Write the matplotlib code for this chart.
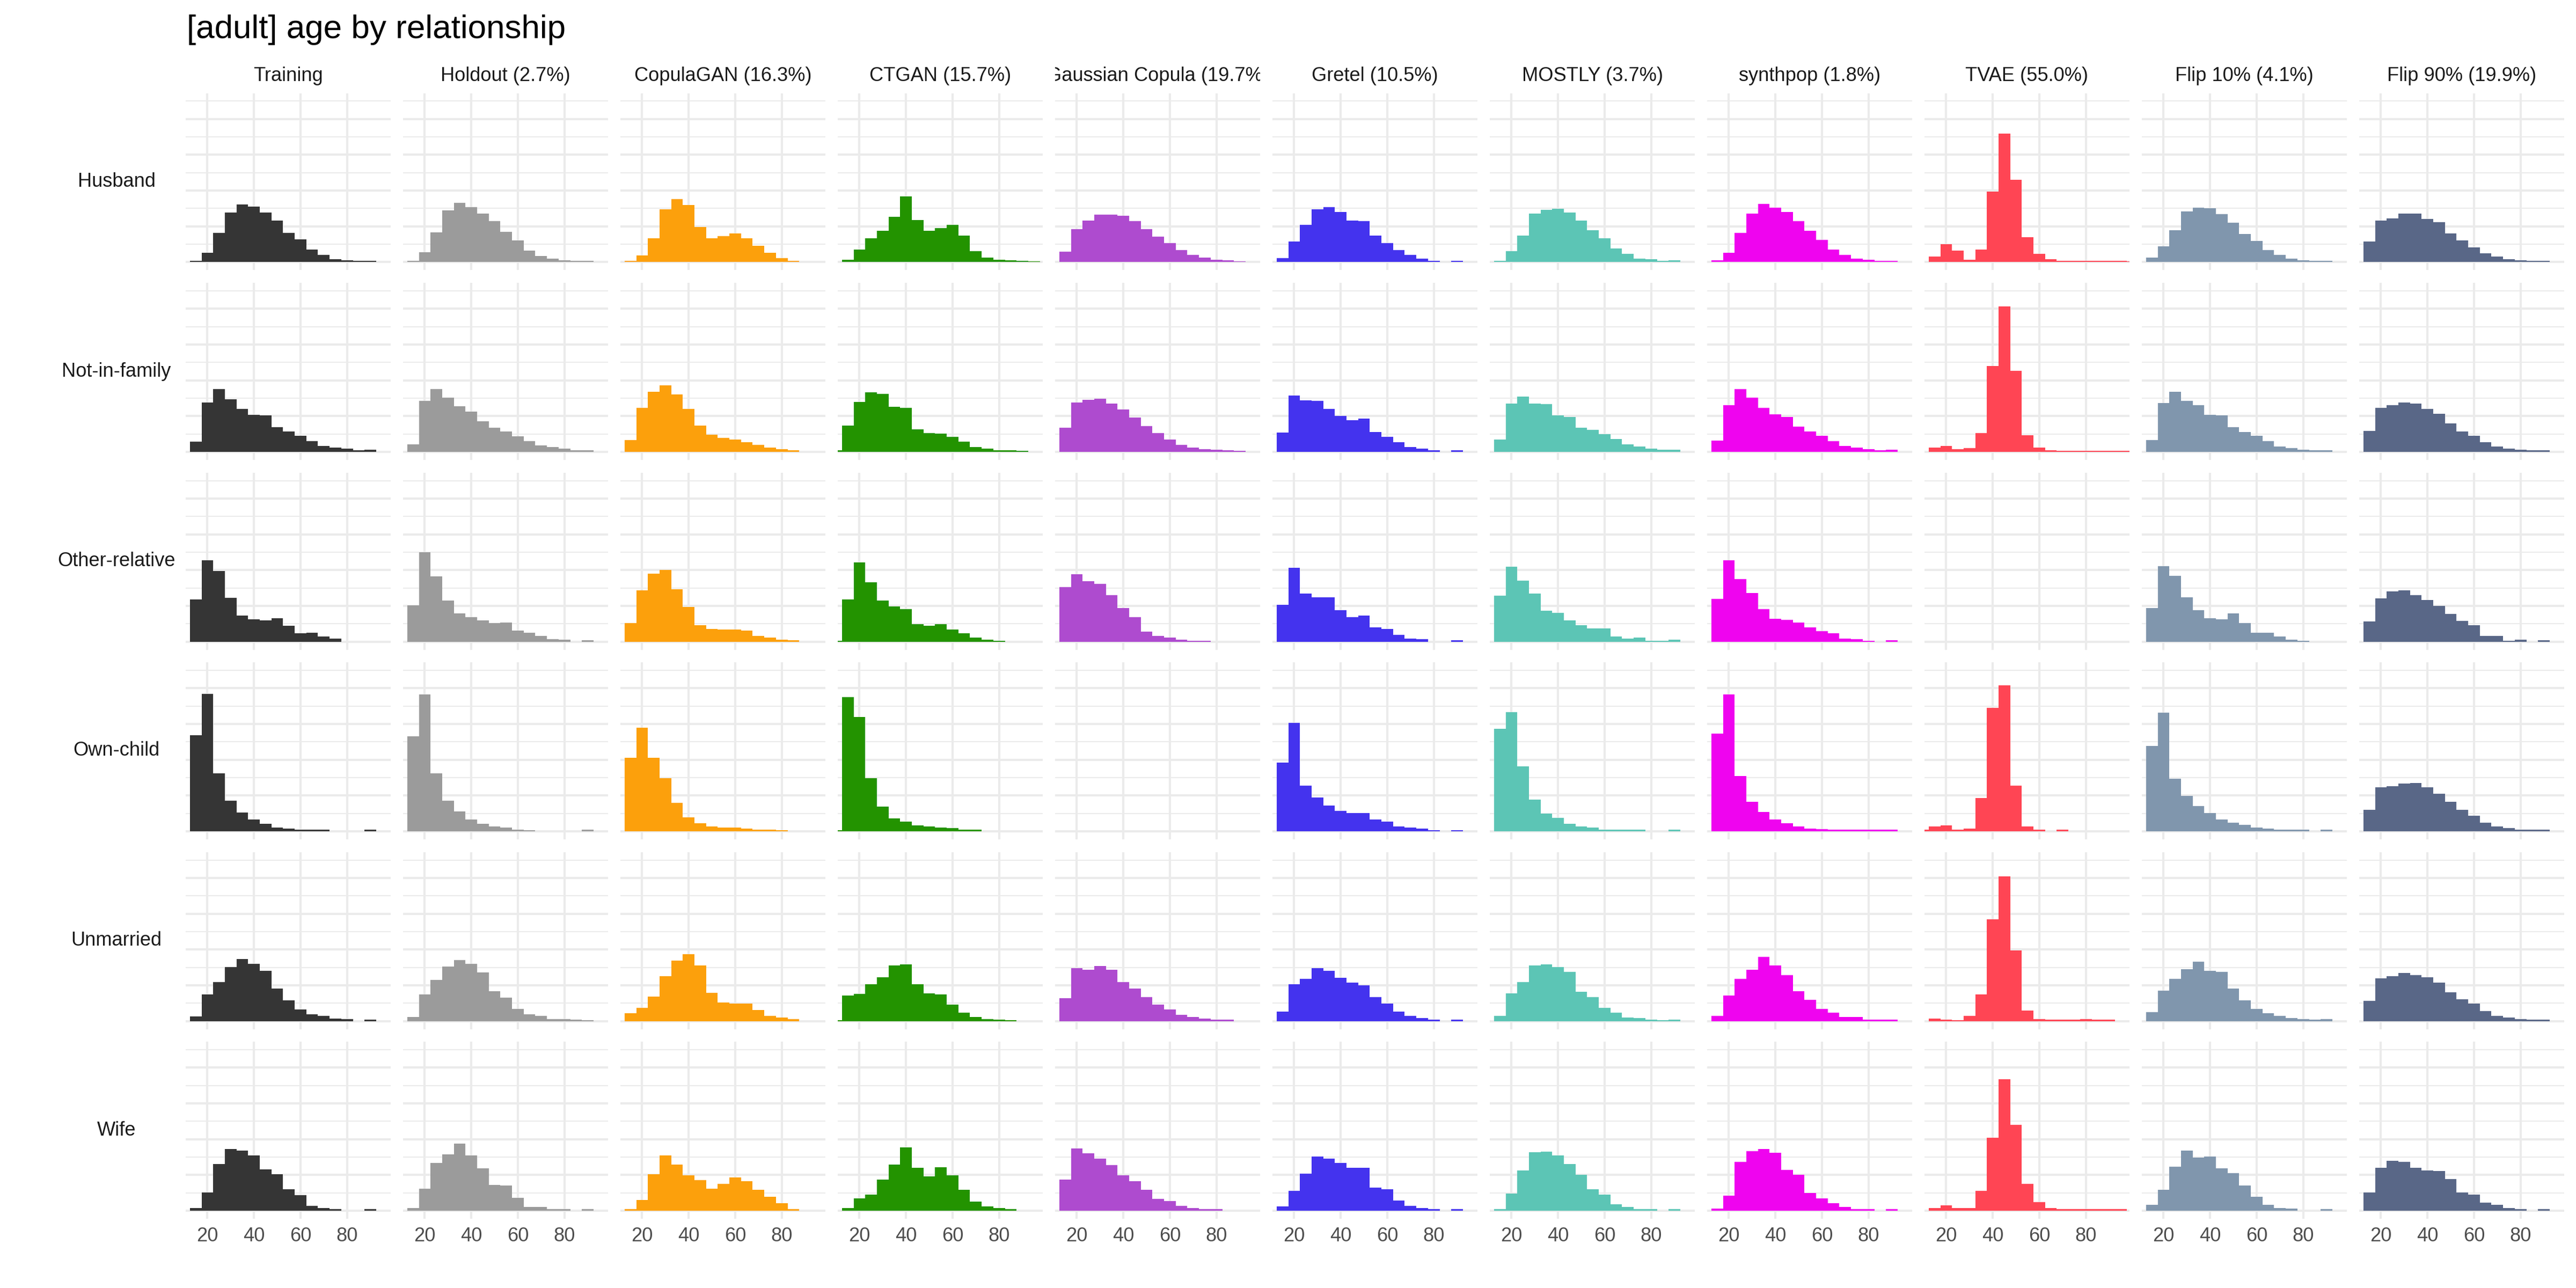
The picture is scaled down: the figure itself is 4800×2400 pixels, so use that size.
import numpy as np
import matplotlib
matplotlib.use('Agg')
import matplotlib.pyplot as plt
from matplotlib.transforms import Bbox, TransformedBbox

plt.rcParams['font.family'] = ['Liberation Sans', 'DejaVu Sans']

# facets
ROWS = ['Husband', 'Not-in-family', 'Other-relative', 'Own-child', 'Unmarried', 'Wife']
COLUMNS = ['Training', 'Holdout (2.7%)', 'CopulaGAN (16.3%)', 'CTGAN (15.7%)',
           'Gaussian Copula (19.7%)', 'Gretel (10.5%)', 'MOSTLY (3.7%)',
           'synthpop (1.8%)', 'TVAE (55.0%)', 'Flip 10% (4.1%)', 'Flip 90% (19.9%)']
COLORS = ['#353535', '#9B9B9B', '#FCA00C', '#239300', '#AE4BCF', '#4433EE',
          '#5CC5B5', '#EF04EF', '#FF4554', '#8096AD', '#596787']

# age histograms, density (% per year), bins of 5 years, first bin centred at 10
BIN_FIRST = 10
BIN_WIDTH = 5

training = [
    [0, 0.08, 0.53, 1.62, 2.76, 3.22, 3.10, 2.78, 2.33, 1.64, 1.26, 0.71, 0.39, 0.16, 0.10, 0.06, 0.08],
    [0, 0.57, 2.76, 3.51, 2.94, 2.41, 2.07, 2.03, 1.38, 1.14, 0.91, 0.61, 0.32, 0.24, 0.18, 0.10, 0.12],
    [0, 2.35, 4.54, 3.94, 2.45, 1.46, 1.24, 1.20, 1.30, 0.89, 0.47, 0.51, 0.28, 0.18],
    [0, 5.37, 7.69, 3.25, 1.70, 1.05, 0.65, 0.43, 0.22, 0.16, 0.10, 0.08, 0.08, 0, 0, 0, 0.10],
    [0, 0.26, 1.48, 2.19, 3.02, 3.47, 3.20, 2.80, 1.83, 1.16, 0.65, 0.39, 0.28, 0.14, 0.10, 0, 0.08],
    [0, 0.14, 1.01, 2.62, 3.45, 3.35, 3.08, 2.31, 2.05, 1.20, 0.87, 0.28, 0.16, 0.10, 0, 0, 0.08],
]
holdout = [
    [0, 0.06, 0.55, 1.66, 2.90, 3.31, 3.06, 2.72, 2.29, 1.68, 1.22, 0.65, 0.34, 0.18, 0.10, 0.06, 0.08],
    [0, 0.43, 2.84, 3.51, 3.02, 2.56, 2.25, 1.72, 1.34, 1.14, 0.87, 0.61, 0.37, 0.26, 0.18, 0.10, 0.10],
    [0, 2.03, 5.01, 3.65, 2.31, 1.58, 1.36, 1.18, 1.03, 1.08, 0.63, 0.49, 0.32, 0.14, 0.10, 0, 0.08],
    [0, 5.31, 7.65, 3.25, 1.70, 1.10, 0.65, 0.43, 0.26, 0.20, 0.10, 0.06, 0, 0, 0, 0, 0.08],
    [0, 0.24, 1.48, 2.31, 3.04, 3.41, 3.20, 2.72, 1.66, 1.30, 0.69, 0.39, 0.28, 0.12, 0.10, 0.08, 0.06],
    [0, 0.16, 1.24, 2.68, 3.14, 3.75, 3.08, 2.37, 1.44, 1.40, 0.71, 0.22, 0.20, 0.10, 0.10, 0, 0.08],
]
copulagan = [
    [0, 0.06, 0.37, 1.34, 2.96, 3.53, 3.20, 1.97, 1.32, 1.46, 1.60, 1.34, 0.91, 0.51, 0.22, 0.08],
    [0, 0.65, 2.45, 3.37, 3.73, 3.20, 2.39, 1.48, 0.95, 0.77, 0.69, 0.55, 0.39, 0.24, 0.14, 0.08],
    [0, 1.03, 2.88, 3.81, 4.02, 2.92, 1.95, 0.93, 0.71, 0.69, 0.67, 0.61, 0.32, 0.24, 0.12, 0.08],
    [0, 4.10, 5.78, 4.10, 2.96, 1.58, 0.79, 0.45, 0.26, 0.20, 0.20, 0.14, 0.10, 0.08, 0.06],
    [0, 0.43, 0.73, 1.38, 2.52, 3.37, 3.73, 3.10, 1.58, 1.05, 0.97, 0.97, 0.63, 0.30, 0.20, 0.10],
    [0, 0.10, 0.61, 2.03, 3.10, 2.58, 1.97, 1.70, 1.22, 1.50, 1.87, 1.64, 1.16, 0.77, 0.43, 0.10],
]
ctgan = [
    [0, 0.12, 0.71, 1.34, 1.74, 2.54, 3.67, 2.35, 1.74, 1.89, 2.09, 1.48, 0.61, 0.26, 0.14, 0.10, 0.06, 0.04],
    [0.08, 1.46, 2.78, 3.33, 3.25, 2.52, 2.45, 1.26, 1.05, 1.01, 0.85, 0.57, 0.26, 0.18, 0.10, 0.10, 0.06],
    [0.06, 2.37, 4.44, 3.33, 2.31, 1.97, 1.83, 0.97, 0.89, 0.99, 0.67, 0.47, 0.22, 0.10, 0.06],
    [0.06, 7.50, 6.39, 2.98, 1.38, 0.71, 0.53, 0.34, 0.26, 0.20, 0.18, 0.10, 0.08],
    [0.06, 1.42, 1.52, 2.07, 2.45, 3.10, 3.18, 2.07, 1.56, 1.50, 0.93, 0.47, 0.22, 0.10, 0.08, 0.06],
    [0, 0.14, 0.69, 0.91, 1.74, 2.58, 3.53, 2.39, 1.93, 2.43, 1.97, 1.16, 0.51, 0.24, 0.16, 0.08],
]
gaussian_copula = [
    [0, 0.59, 1.83, 2.31, 2.64, 2.64, 2.60, 2.29, 1.85, 1.42, 1.05, 0.67, 0.39, 0.26, 0.14, 0.10, 0.04],
    [0, 1.36, 2.76, 2.90, 2.98, 2.70, 2.37, 1.91, 1.44, 1.05, 0.69, 0.39, 0.24, 0.16, 0.12, 0.10, 0.06],
    [0, 3.04, 3.77, 3.39, 3.23, 2.60, 1.87, 1.36, 0.57, 0.32, 0.22, 0.10, 0.06, 0.06],
    [],
    [0, 1.28, 2.96, 2.86, 3.08, 2.86, 2.17, 1.83, 1.34, 0.91, 0.65, 0.34, 0.22, 0.14, 0.08, 0.08],
    [0, 1.74, 3.47, 3.20, 2.92, 2.56, 1.97, 1.64, 1.18, 0.65, 0.53, 0.26, 0.16, 0.08, 0.08],
]
gretel = [
    [0, 0.22, 1.14, 2.09, 2.96, 3.08, 2.80, 2.33, 2.29, 1.48, 1.05, 0.67, 0.39, 0.18, 0.08, 0, 0.06],
    [0, 1.08, 3.14, 2.88, 2.84, 2.39, 2.01, 1.76, 1.85, 1.12, 0.83, 0.55, 0.28, 0.18, 0.10, 0, 0.10],
    [0, 2.07, 4.12, 2.68, 2.47, 2.49, 1.76, 1.38, 1.46, 0.81, 0.71, 0.39, 0.18, 0.14, 0, 0, 0.08],
    [0, 3.83, 6.06, 2.54, 1.89, 1.44, 1.14, 1.01, 1.03, 0.65, 0.55, 0.28, 0.22, 0.14, 0.06, 0, 0.06],
    [0, 0.53, 2.07, 2.35, 2.96, 2.82, 2.41, 2.15, 2.01, 1.34, 0.97, 0.53, 0.30, 0.16, 0.08, 0, 0.08],
    [0, 0.24, 1.12, 2.07, 3.02, 2.90, 2.68, 2.39, 2.39, 1.28, 1.20, 0.57, 0.26, 0.16, 0.08, 0, 0.08],
]
mostly = [
    [0, 0.06, 0.61, 1.48, 2.72, 2.92, 2.98, 2.76, 2.33, 1.78, 1.34, 0.77, 0.45, 0.20, 0.16, 0.08, 0.10],
    [0, 0.69, 2.70, 3.10, 2.70, 2.66, 2.03, 1.95, 1.34, 1.24, 0.99, 0.73, 0.43, 0.30, 0.18, 0.12, 0.12],
    [0, 2.58, 4.20, 3.41, 2.70, 1.74, 1.62, 1.18, 0.91, 0.73, 0.73, 0.30, 0.16, 0.22, 0.06, 0.06, 0.12],
    [0, 5.74, 6.65, 3.63, 1.76, 0.99, 0.75, 0.41, 0.28, 0.20, 0.10, 0.10, 0.08, 0.08, 0, 0, 0.10],
    [0, 0.28, 1.54, 2.17, 3.10, 3.18, 3.02, 2.76, 1.64, 1.34, 0.73, 0.47, 0.20, 0.16, 0.08, 0.06, 0.08],
    [0, 0.10, 0.97, 2.25, 3.27, 3.31, 3.10, 2.60, 2.01, 1.20, 0.91, 0.37, 0.20, 0.10, 0.08, 0, 0.08],
]
synthpop = [
    [0, 0.10, 0.53, 1.62, 2.72, 3.25, 3.04, 2.80, 2.29, 1.74, 1.24, 0.69, 0.41, 0.18, 0.12, 0.06, 0.08],
    [0, 0.63, 2.62, 3.51, 3.02, 2.45, 2.09, 1.95, 1.40, 1.14, 0.91, 0.61, 0.32, 0.24, 0.16, 0.10, 0.12],
    [0, 2.39, 4.54, 3.49, 2.72, 1.81, 1.28, 1.22, 1.08, 0.81, 0.59, 0.47, 0.18, 0.14, 0.06, 0, 0.08],
    [0, 5.46, 7.65, 3.08, 1.66, 1.08, 0.65, 0.45, 0.26, 0.14, 0.12, 0.08, 0.08, 0.08, 0.08, 0.08, 0.10],
    [0, 0.28, 1.44, 2.37, 2.88, 3.59, 3.12, 2.58, 1.66, 1.18, 0.69, 0.47, 0.24, 0.22, 0.08, 0.08, 0.08],
    [0, 0.12, 0.85, 2.72, 3.33, 3.45, 3.23, 2.29, 2.01, 0.99, 0.69, 0.41, 0.20, 0.08, 0.08, 0, 0.08],
]
tvae = [
    [0, 0.30, 0.99, 0.63, 0.14, 0.71, 3.94, 7.18, 4.60, 1.40, 0.47, 0.16, 0.08, 0.06, 0.06, 0.06, 0.06, 0.06, 0.04],
    [0, 0.24, 0.32, 0.14, 0.22, 1.05, 4.81, 8.13, 4.52, 0.93, 0.24, 0.08, 0.07, 0.07, 0.07, 0.07, 0.07, 0.07, 0.06],
    [],
    [0.08, 0.26, 0.32, 0.08, 0.14, 1.85, 6.90, 8.15, 2.56, 0.28, 0.08, 0, 0.08],
    [0, 0.14, 0.08, 0.06, 0.28, 1.48, 5.70, 8.09, 3.94, 0.59, 0.12, 0.08, 0.08, 0.08, 0.10, 0.08, 0.08],
    [0, 0.14, 0.30, 0.14, 0.14, 1.12, 4.08, 7.34, 4.81, 1.50, 0.49, 0.14, 0.10, 0.08, 0.08, 0.08, 0.08, 0.08],
]
flip_10 = [
    [0, 0.26, 0.87, 1.78, 2.82, 3.04, 3.00, 2.68, 2.19, 1.56, 1.18, 0.67, 0.39, 0.18, 0.10, 0.06, 0.08],
    [0, 0.67, 2.72, 3.37, 2.86, 2.60, 2.07, 2.05, 1.38, 1.10, 0.91, 0.59, 0.30, 0.22, 0.12, 0.08, 0.10],
    [0, 1.89, 4.22, 3.67, 2.47, 1.76, 1.30, 1.24, 1.58, 1.03, 0.49, 0.51, 0.30, 0.10, 0.04],
    [0, 4.77, 6.63, 2.94, 1.99, 1.40, 1.03, 0.67, 0.49, 0.37, 0.22, 0.14, 0.10, 0.08, 0.08, 0, 0.08],
    [0, 0.49, 1.70, 2.35, 2.90, 3.31, 2.80, 2.76, 1.81, 1.16, 0.69, 0.45, 0.28, 0.16, 0.10, 0.08, 0.10],
    [0, 0.34, 1.16, 2.47, 3.35, 2.96, 3.04, 2.37, 2.09, 1.40, 0.79, 0.32, 0.16, 0.12, 0, 0, 0.08],
]
flip_90 = [
    [0, 1.14, 2.33, 2.45, 2.70, 2.72, 2.41, 2.23, 1.60, 1.22, 0.83, 0.49, 0.30, 0.16, 0.10, 0.06, 0.08],
    [0, 1.16, 2.45, 2.60, 2.76, 2.70, 2.39, 2.13, 1.60, 1.14, 0.89, 0.53, 0.30, 0.18, 0.12, 0.08, 0.10],
    [0, 1.14, 2.41, 2.80, 2.86, 2.60, 2.33, 2.01, 1.56, 1.16, 0.91, 0.32, 0.32, 0.06, 0.10, 0, 0.08],
    [0, 1.20, 2.47, 2.52, 2.68, 2.70, 2.45, 2.11, 1.66, 1.20, 0.87, 0.49, 0.26, 0.18, 0.10, 0.08, 0.10],
    [0, 1.12, 2.39, 2.52, 2.68, 2.58, 2.45, 2.15, 1.62, 1.22, 0.97, 0.57, 0.28, 0.20, 0.10, 0.08, 0.08],
    [0, 1.03, 2.39, 2.78, 2.72, 2.41, 2.25, 2.21, 1.78, 1.01, 0.91, 0.45, 0.32, 0.14, 0.10, 0, 0.08],
]

PANELS = [training, holdout, copulagan, ctgan, gaussian_copula, gretel,
          mostly, synthpop, tvae, flip_10, flip_90]

X_TICKS = [20, 40, 60, 80]

# layout in pixels of the 4800 x 2400 canvas
W, H = 4800, 2400
LEFT, PANEL_W, STEP_X = 346, 382, 405
TOP, PANEL_H, STEP_Y = 173.5, 330, 353.5

fig = plt.figure(figsize=(16, 8), dpi=300, facecolor='white')

fig.text(348 / W, 1 - 71 / H, '[adult] age by relationship', fontsize=14.9,
         color='black', ha='left', va='baseline')

for i, row in enumerate(ROWS):
    top = TOP + i * STEP_Y
    fig.text(217 / W, 1 - (top + PANEL_H / 2) / H, row, fontsize=8.7,
             color='#1A1A1A', ha='center', va='center')
    for j, col in enumerate(COLUMNS):
        left = LEFT + j * STEP_X
        ax = fig.add_axes([left / W, 1 - (top + PANEL_H) / H, PANEL_W / W, PANEL_H / H])
        ax.set_xlim(10.7, 98.75)
        ax.set_ylim(-0.45, 9.45)

        ax.set_xticks(X_TICKS)
        ax.set_yticks([0, 2, 4, 6, 8])
        ax.set_yticks([1, 3, 5, 7, 9], minor=True)
        ax.grid(True, which='major', color='#EBEBEB', linewidth=1.0)
        ax.grid(True, which='minor', axis='y', color='#EBEBEB', linewidth=0.5)
        ax.set_axisbelow(True)
        for s in ax.spines.values():
            s.set_visible(False)
        ax.tick_params(which='both', length=0, labelleft=False)
        if i == len(ROWS) - 1:
            ax.tick_params(axis='x', labelsize=8.7, labelcolor='#4D4D4D', pad=3.5)
        else:
            ax.tick_params(axis='x', labelbottom=False)

        heights = PANELS[j][i]
        if len(heights):
            edges = BIN_FIRST - BIN_WIDTH / 2 + BIN_WIDTH * np.arange(len(heights) + 1)
            ax.stairs(heights, edges, fill=True, color=COLORS[j], linewidth=0)

        if i == 0:
            t = ax.text(0.5, 1 + 22.5 / PANEL_H, col, transform=ax.transAxes,
                        fontsize=8.7, color='#1A1A1A', ha='center', va='baseline',
                        clip_on=True)
            t.set_clip_box(TransformedBbox(Bbox([[0, 1], [1, 1.5]]), ax.transAxes))

fig.savefig('out.png', dpi=300, facecolor='white')
